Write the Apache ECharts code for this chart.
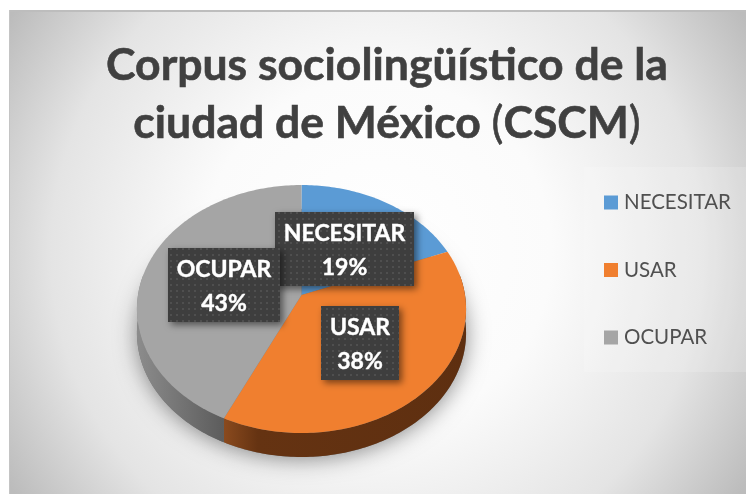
<!DOCTYPE html>
<html><head><meta charset="utf-8">
<style>html,body{margin:0;padding:0;background:#fff}#c{width:746px;height:494px}</style>
<script src="https://cdn.jsdelivr.net/npm/echarts@6/dist/echarts.min.js"></script>
</head><body><div id="c"></div>
<script>
var categories = ['NECESITAR', 'USAR', 'OCUPAR'];
var values = [19, 38, 43];
var colors = ['#5b9bd5', '#f07f2f', '#a5a5a5'];

// Tilted-disc projection of the pie
var CX = 301.5, CY = 295, BX = 163.5, AY = 122.4, P = 0.113, DEPTH = 24;
function proj(deg) {
  var t = deg * Math.PI / 180, x = Math.sin(t), y = -Math.cos(t), w = 1 - P * y;
  return [CX + BX * x / w, CY + AY * y / w];
}
function arc(a, b) {
  var pts = [], n = Math.max(2, Math.ceil(Math.abs(b - a)));
  for (var i = 0; i <= n; i++) pts.push(proj(a + (b - a) * i / n));
  return pts;
}
var total = values.reduce(function (s, v) { return s + v; }, 0);
var sideStops = [
  null,
  [[0, '#8a4a1e'], [0.14, '#653312'], [1, '#5e2f10']],
  [[0, '#8c8c8c'], [1, '#5c5c5c']]
];
function gradient(stops) {
  return { type: 'linear', x: 0, y: 0, x2: 1, y2: 0,
    colorStops: stops.map(function (s) { return { offset: s[0], color: s[1] }; }) };
}
function sliceRender(index) {
  return function (params, api) {
    var before = 0;
    for (var i = 0; i < index; i++) before += values[i];
    var a = before / total * 360, b = (before + api.value(0)) / total * 360;
    var children = [];
    var sa = Math.max(a, 80), sb = Math.min(b, 280);
    if (sb > sa && sideStops[index]) {
      var top = arc(sa, sb);
      var bottom = top.map(function (p) { return [p[0], p[1] + DEPTH]; }).reverse();
      children.push({ type: 'polygon', shape: { points: top.concat(bottom) },
        style: { fill: gradient(sideStops[index]) } });
    }
    children.push({ type: 'polygon', shape: { points: [[CX, CY]].concat(arc(a, b)) },
      style: { fill: colors[index] } });
    return { type: 'group', children: children };
  };
}

// Data label boxes: [left, top, width, height]
var boxes = [[275, 212, 139, 74], [321, 306, 78, 74], [168, 248, 112, 74]];
var dots = document.createElement('canvas');
dots.width = 6; dots.height = 6;
(function () {
  var g = dots.getContext('2d');
  g.fillStyle = '#3e3e3e'; g.fillRect(0, 0, 6, 6);
  g.fillStyle = '#4f4f4f'; g.fillRect(2, 2, 2, 2);
})();
function labelRender(params, api) {
  var i = params.dataIndex, r = boxes[i];
  var font = '700 23px Lato, sans-serif';
  return { type: 'group', children: [
    { type: 'rect', shape: { x: r[0], y: r[1], width: r[2], height: r[3] },
      style: { fill: { image: dots, repeat: 'repeat' }, shadowBlur: 7, shadowOffsetX: 3, shadowOffsetY: 3, shadowColor: 'rgba(0,0,0,0.5)' } },
    { type: 'text', style: { x: r[0] + r[2] / 2, y: r[1] + 22, text: categories[i], fill: '#fff', stroke: '#fff', lineWidth: 0.4, font: font, align: 'center', verticalAlign: 'middle' } },
    { type: 'text', style: { x: r[0] + r[2] / 2, y: r[1] + 56, text: api.value(0) + '%', fill: '#fff', stroke: '#fff', lineWidth: 0.4, font: font, align: 'center', verticalAlign: 'middle' } }
  ] };
}

var series = categories.map(function (name, i) {
  return { type: 'custom', name: name, coordinateSystem: 'none', z: 3, silent: true,
    itemStyle: { color: colors[i] }, renderItem: sliceRender(i), data: [[values[i]]] };
});
series.push({ type: 'custom', name: 'labels', coordinateSystem: 'none', z: 6, silent: true,
  renderItem: labelRender, data: values.map(function (v) { return [v]; }) });

var silhouette = arc(0, 360).map(function (p) { return [p[0], p[1] + DEPTH]; });

var chart = echarts.init(document.getElementById('c'), null, { renderer: 'canvas' });
chart.setOption({
  animation: false,
  title: {
    left: 382, top: 32, textAlign: 'center',
    text: 'Corpus sociolingüístico de la\nciudad de México {p|(}CSCM{p|)}',
    textStyle: { fontFamily: 'Lato', fontWeight: 700, fontSize: 44.5, lineHeight: 58, color: '#404040',
      textBorderColor: '#404040', textBorderWidth: 0.6,
      rich: { p: { fontFamily: 'Lato', fontWeight: 400, fontSize: 44.5, lineHeight: 58, color: '#404040' } } }
  },
  legend: {
    orient: 'vertical', left: 599, top: 187, itemWidth: 14, itemHeight: 14, itemGap: 46.5, icon: 'rect',
    data: categories, selectedMode: false,
    textStyle: { fontFamily: 'Lato', fontSize: 20.5, color: '#505050', padding: [0, 0, 0, 1] }
  },
  graphic: [
    { type: 'rect', z: 0, shape: { x: 9, y: 10, width: 737, height: 484 },
      style: { fill: { type: 'radial', x: 0.5, y: 0.5, r: 0.9, colorStops: [
        { offset: 0, color: '#ffffff' }, { offset: 0.4, color: '#fbfbfb' }, { offset: 0.75, color: '#e4e4e4' }, { offset: 1, color: '#bcbcbc' } ] } } },
    { type: 'rect', z: 0, shape: { x: 9, y: 10, width: 737, height: 2 }, style: { fill: '#bdbdbd' } },
    { type: 'rect', z: 0, shape: { x: 9, y: 10, width: 1, height: 484 }, style: { fill: '#c4c4c4' } },
    { type: 'rect', z: 0, shape: { x: 584, y: 167, width: 162, height: 205 }, style: { fill: 'rgba(255,255,255,0.16)' } },
    { type: 'polygon', z: 1, shape: { points: silhouette },
      style: { fill: '#777', shadowBlur: 22, shadowOffsetY: 2, shadowColor: 'rgba(0,0,0,0.45)' } }
  ],
  series: series
});
</script></body></html>
